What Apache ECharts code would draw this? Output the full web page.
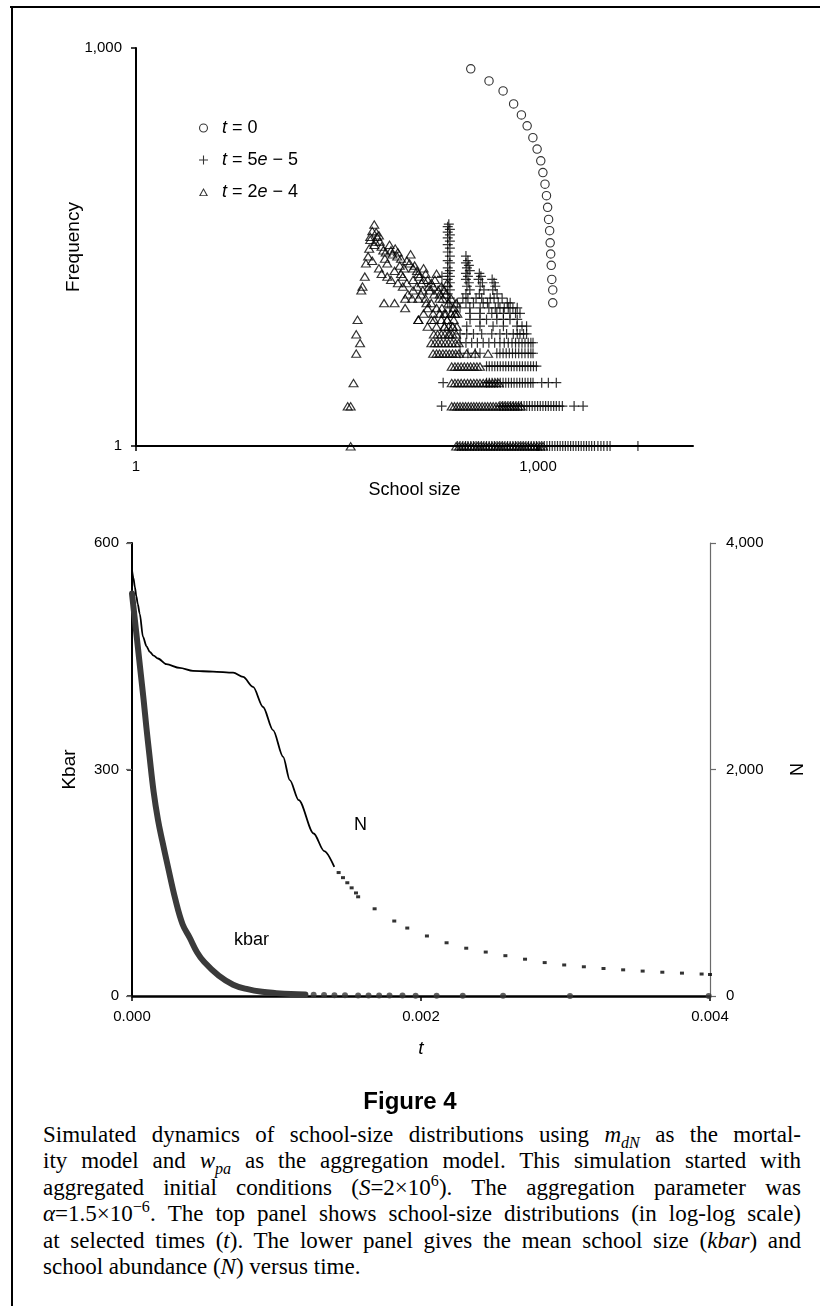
<!DOCTYPE html>
<html><head><meta charset="utf-8">
<script src="https://cdn.jsdelivr.net/npm/echarts@6/dist/echarts.min.js"></script>
<style>
html,body{margin:0;padding:0;background:#fff;}
#page{position:relative;width:820px;height:1306px;overflow:hidden;background:#fff;}
#frameTop{position:absolute;left:10px;top:5.5px;width:810px;height:2.5px;background:#000;}
#frameLeft{position:absolute;left:10.5px;top:5.5px;width:2.5px;height:1301px;background:#000;}
#chart{position:absolute;left:0;top:0;width:820px;height:1070px;}
#figTitle{position:absolute;left:0;width:820px;top:1087px;text-align:center;font:bold 24px 'Liberation Sans',Arial,sans-serif;line-height:28px;}
#caption{position:absolute;left:43px;top:1122px;width:758px;font-family:'Liberation Serif','Times New Roman',serif;font-size:23px;line-height:26.4px;color:#000;}
#caption div{height:26.4px;white-space:nowrap;}
#caption .j{text-align:justify;text-align-last:justify;}
#caption sub{font-size:0.7em;vertical-align:-0.4em;line-height:0;}
#caption sup{font-size:0.7em;vertical-align:0.55em;line-height:0;}
</style></head>
<body>
<div id="page">
<div id="chart"></div>
<div id="frameTop"></div>
<div id="frameLeft"></div>
<div id="figTitle">Figure 4</div>
<div id="caption">
<div class="j">Simulated dynamics of school-size distributions using <i>m</i><sub><i>dN</i></sub> as the mortal-</div>
<div class="j">ity model and <i>w</i><sub><i>pa</i></sub> as the aggregation model. This simulation started with</div>
<div class="j">aggregated initial conditions (<i>S</i>=2×10<sup>6</sup>). The aggregation parameter was</div>
<div class="j"><i>α</i>=1.5×10<sup>−6</sup>. The top panel shows school-size distributions (in log-log scale)</div>
<div class="j">at selected times (<i>t</i>). The lower panel gives the mean school size (<i>kbar</i>) and</div>
<div>school abundance (<i>N</i>) versus time.</div>
</div>
</div>
<script>
// ---------- Top panel: school-size distributions ----------
const xTicksTop = [1, 1000];
const yTicksTop = [1, 1000];

// t = 0 (circles)
const circleSize = [315, 431, 549, 658, 752, 830, 916, 985, 1049, 1088, 1128, 1157, 1180, 1200, 1222, 1233, 1244, 1256, 1268, 1289, 1289];
const circleFreq = [697, 565, 475, 379, 313, 259, 211, 173, 141, 115, 94, 77, 63, 51, 42, 34, 28, 23, 18, 15, 12];

// t = 5e-5 (plus signs): sizes at each low frequency row, plus upper points [size, freq]
const plusF1 = [250, 262, 275, 288, 300, 315, 330, 345, 360, 378, 395, 413, 432, 452, 473, 495, 518, 542, 567, 593, 620, 649, 679, 710, 743, 777, 813, 850, 890, 931, 974, 1019, 1066, 1115, 1167, 1221, 1277, 1336, 1398, 1463, 1530, 1601, 1675, 1752, 1833, 1918, 2007, 2100, 2197, 2299, 2405, 2516, 2640, 2800, 2950, 3100, 3280, 3450, 5570];
const plusF2 = [191, 520, 545, 570, 597, 625, 655, 686, 718, 752, 788, 825, 864, 905, 948, 993, 1040, 1089, 1140, 1194, 1250, 1309, 1370, 1440, 1520, 1860, 2170];
const plusF3 = [196, 413, 433, 454, 476, 499, 523, 549, 575, 603, 633, 663, 696, 730, 765, 802, 841, 882, 918, 1066, 1195, 1370];
const plusF4 = [413, 433, 454, 476, 499, 523, 549, 575, 603, 633, 663, 696, 730, 765, 802, 841, 882, 925, 973];
const plusF5 = [262, 300, 340, 369, 493, 520, 549, 579, 611, 645, 680, 718, 758, 800, 845, 885, 918];
const plusF6 = [262, 290, 320, 353, 390, 430, 475, 520, 560, 600, 640, 680, 720, 760, 800, 845, 885, 918];
const plusF7 = [262, 294, 330, 380, 452, 520, 583, 654, 700, 734, 780, 822];
const plusF8 = [294, 369, 462, 552, 697, 760, 822];
const plusF9 = [311, 369, 413, 493, 552, 618, 700];
const plusF10 = [311, 369, 452, 493, 552, 618, 680, 734];
const plusUpper = [[192,19],[192,16],
 [216,47],[212,45],[220,43],[212,41],[220,39],[212,37],[220,35],[212,33],[220,31],[212,29],[220,27],[212,25],[220,24],[212,22],[220,21],[212,20],[220,19],[212,18],[220,17],[212,16],[220,15],[212,14],[220,13],[212,12],[220,11],
 [290,27],[300,25],[290,24],[305,23],[295,22],[310,21],[290,20],[300,19],[290,18],[305,17],[295,16],[310,15],[290,14],[300,13],[290,12],[310,11],
 [365,20],[375,19],[360,18],[385,17],[370,16],[395,15],[365,14],[380,13],[390,12],[370,11],
 [455,18],[470,17],[480,16],[460,15],[495,14],[470,13],[505,12],[480,11],
 [540,13],[590,12],[560,11],[620,12],[650,11],
 [330,12],[345,13],[420,12],[440,13],[430,11],[520,11],[600,11],[700,11],[250,12],[262,11],[275,13]];

// t = 2e-4 (triangles)
const triF1 = [40, 245, 258, 272, 286, 301, 317, 334, 352, 370, 390, 410, 432, 455, 479, 504, 531, 559, 589, 620, 653, 687, 723, 761, 801, 843, 888, 935, 984, 1036, 1090];
const triF2 = [38, 40, 227, 238, 250, 262, 275, 288, 302, 317, 332, 348, 365, 383, 402, 421, 442, 463, 486, 510, 535, 560, 588, 616, 646, 678, 711, 745];
const triF3 = [42, 227, 240, 253, 267, 282, 298, 314, 332, 350, 369, 390, 411, 434, 458, 483, 510];
const triF4 = [227, 240, 253, 267, 282, 298, 314, 332, 350, 369];
const triF5 = [44, 165, 175, 184, 195, 206, 218, 230, 243, 257, 294, 339, 424];
const triF6 = [47, 160, 170, 180, 191, 203, 215, 228, 242, 256];
const triF7 = [44, 167, 178, 190, 202, 215, 230, 245];
const triF8 = [150, 175, 200, 215, 232, 248];
const triF9 = [45, 128, 160, 190, 210, 235];
const triF10 = [140, 165, 185, 205, 225, 240];
const triUpper = [[48,15],[49,16],[51,19],[52,24],[54,27],[55,31],[56,36],[56,38],[58,42],[60,47],[62,41],[63,38],[61,35],[60,33],
 [65,39],[68,32],[73,29],[82,28],[89,27],[58,25],[75,24],[93,23],[100,22],[85,21],[117,22],[128,20],[75,19],[98,19],[117,18],[140,18],[160,17],[98,16],[117,15],[134,14],[153,16],[168,14],[102,13],[128,13],[147,12],[184,13],[192,11],[210,9],[240,10],[230,8],[220,7],[201,8],[168,9],[140,22],[175,20],[210,17],[200,15],[71,12],[85,12],[102,11],[107,14],[128,9],
 [66,35],[70,30],[72,26],[78,33],[80,30],[86,31],[90,29],[95,26],[105,25],[110,24],[112,28],[120,23],[125,21],[130,19],[135,17],[145,20],[150,18],[155,15],[165,16],[170,18],[180,15],[185,14],[190,16],[195,13],[205,14],[215,12],[225,13],[235,11],[245,12],[250,10],[160,12],[150,11],[175,11],[200,10],[65,22],[68,20],[80,18],[90,17],[95,20],[105,17],[115,13],[125,16],[138,15],[145,13]];

// ---------- Bottom panel: kbar and N versus t ----------
const kbarT = [0, 0.00002, 0.00004, 0.00006, 0.00008, 0.0001, 0.00012, 0.00015, 0.00018, 0.00021, 0.00025, 0.0003, 0.00035, 0.0004, 0.00045, 0.0005, 0.0006, 0.0007, 0.0008, 0.0009, 0.001, 0.0011, 0.0012];
const kbarV = [533, 498, 463, 428, 393, 355, 320, 270, 233, 205, 170, 128, 95, 77, 58, 45, 27, 15, 9, 5.5, 3.8, 2.6, 2];
const kbarDotT = [0.001257, 0.001329, 0.001401, 0.001474, 0.001565, 0.001637, 0.00171, 0.001782, 0.001872, 0.001963, 0.002108, 0.002289, 0.002568, 0.003031, 0.003991];
const kbarDotV = [1.5, 1.2, 1, 0.9, 0.8, 0.7, 0.6, 0.5, 0.5, 0.4, 0.3, 0.3, 0.2, 0.1, 0.1];
const nT = [0, 0.00001, 0.00002, 0.00003, 0.00004, 0.0000533, 0.0000762, 0.0001, 0.000123, 0.00015, 0.00018, 0.000238, 0.00033, 0.000422, 0.00056, 0.0007, 0.000769, 0.000838, 0.000907, 0.000976, 0.001046, 0.001092, 0.001154, 0.001257, 0.00133, 0.0014];
const nV = [3760, 3690, 3610, 3530, 3460, 3377, 3171, 3090, 3038, 3005, 2980, 2930, 2897, 2870, 2865, 2856, 2817, 2729, 2552, 2347, 2111, 1906, 1729, 1435, 1280, 1140];
const nDotT = [0.00143, 0.00146, 0.00149, 0.00152, 0.00155, 0.001565, 0.001679, 0.001815, 0.001905, 0.002041, 0.002177, 0.002313, 0.002448, 0.002584, 0.00272, 0.002856, 0.002991, 0.003127, 0.003263, 0.003399, 0.003534, 0.00367, 0.003806, 0.003942, 0.004];
const nDotV = [1090, 1045, 1000, 955, 910, 876, 770, 662, 600, 530, 470, 422, 388, 356, 325, 295, 274, 258, 243, 231, 220, 210, 202, 194, 190];
const tTicks = [0, 0.002, 0.004];
const kbarTicks = [0, 300, 600];
const nTicks = [0, 2000, 4000];

// ---------- build ----------
const rowPts = (sizes, f) => sizes.map(s => [s, f]);
const plusData = [].concat(rowPts(plusF1,1), rowPts(plusF2,2), rowPts(plusF3,3), rowPts(plusF4,4), rowPts(plusF5,5),
  rowPts(plusF6,6), rowPts(plusF7,7), rowPts(plusF8,8), rowPts(plusF9,9), rowPts(plusF10,10), plusUpper);
const triData = [].concat(rowPts(triF1,1), rowPts(triF2,2), rowPts(triF3,3), rowPts(triF4,4), rowPts(triF5,5),
  rowPts(triF6,6), rowPts(triF7,7), rowPts(triF8,8), rowPts(triF9,9), rowPts(triF10,10), triUpper);
const circleData = circleSize.map((s, i) => [s, circleFreq[i]]);
const zip = (a, b) => a.map((v, i) => [v, b[i]]);

const SANS = "'Liberation Sans', Arial, sans-serif";
const TICKF = "'Liberation Sans Narrow', 'Liberation Sans', Arial, sans-serif";
const comma = v => Math.round(v).toLocaleString('en-US');

const RING = 'path://M0,5A5,5,0,1,0,10,5A5,5,0,1,0,0,5Z M1.2,5A3.8,3.8,0,1,1,8.8,5A3.8,3.8,0,1,1,1.2,5Z';
const PLUS = 'path://M4.4,0H5.6V10H4.4Z M0,4.4H10V5.6H0Z';
const TRI = 'path://M5,0L10,9L0,9Z M5,2.3L1.9,8L8.1,8Z';

const names = ['t = 0', 't = 5e \u2212 5', 't = 2e \u2212 4'];

const axisBlack = w => ({ show: true, onZero: false, lineStyle: { color: '#000', width: w } });
const tickBlack = { show: true, length: 5, lineStyle: { color: '#000', width: 1.5 } };

const chart = echarts.init(document.getElementById('chart'), null, { renderer: 'canvas' });
chart.setOption({
  animation: false,
  backgroundColor: 'transparent',
  textStyle: { fontFamily: SANS, color: '#000' },
  grid: [
    { left: 136, top: 48, width: 557, height: 398 },
    { left: 132, top: 543, width: 578, height: 453 }
  ],
  legend: {
    data: names,
    orient: 'vertical', left: 199, top: 118, padding: 0,
    itemWidth: 9, itemHeight: 9, itemGap: 12,
    formatter: n => '\u2002' + n.replace('t', '{i|t}').replace(/(\d)e/, '$1{i|e}'),
    textStyle: { fontSize: 18, fontFamily: SANS, color: '#000', lineHeight: 20,
      rich: { i: { fontStyle: 'italic', fontSize: 18, fontFamily: SANS, color: '#000', lineHeight: 20 } } }
  },
  xAxis: [
    { gridIndex: 0, type: 'log', logBase: 1000, min: 1, max: 14350,
      axisLine: axisBlack(2), axisTick: Object.assign({ customValues: xTicksTop }, tickBlack),
      axisLabel: { customValues: xTicksTop, formatter: comma, fontSize: 15, fontFamily: TICKF, color: '#000', margin: 13 },
      splitLine: { show: false },
      name: 'School size', nameLocation: 'middle', nameGap: 35, nameMoveOverlap: false,
      nameTextStyle: { fontSize: 18, fontFamily: SANS, color: '#000' } },
    { gridIndex: 1, type: 'value', min: 0, max: 0.004, interval: 0.002,
      axisLine: axisBlack(2.5), axisTick: Object.assign({ customValues: tTicks }, tickBlack),
      axisLabel: { customValues: tTicks, formatter: v => v.toFixed(3), fontSize: 15, fontFamily: TICKF, color: '#000', margin: 13 },
      splitLine: { show: false },
      name: 't', nameLocation: 'middle', nameGap: 43, nameMoveOverlap: false,
      nameTextStyle: { fontSize: 19, fontStyle: 'italic', fontFamily: SANS, color: '#000' } }
  ],
  yAxis: [
    { gridIndex: 0, type: 'log', logBase: 1000, min: 1, max: 1000,
      axisLine: axisBlack(2), axisTick: Object.assign({ customValues: yTicksTop }, tickBlack),
      axisLabel: { customValues: yTicksTop, formatter: comma, fontSize: 15, fontFamily: TICKF, color: '#000', margin: 14 },
      splitLine: { show: false },
      name: 'Frequency', nameLocation: 'middle', nameGap: 53, nameMoveOverlap: false,
      nameTextStyle: { fontSize: 19, fontFamily: SANS, color: '#000' } },
    { gridIndex: 1, type: 'value', min: 0, max: 600, interval: 300,
      axisLine: axisBlack(2), axisTick: Object.assign({ customValues: kbarTicks }, tickBlack),
      axisLabel: { customValues: kbarTicks, fontSize: 15, fontFamily: TICKF, color: '#000', margin: 13 },
      splitLine: { show: false },
      name: 'Kbar', nameLocation: 'middle', nameGap: 53, nameMoveOverlap: false,
      nameTextStyle: { fontSize: 19, fontFamily: SANS, color: '#000' } },
    { gridIndex: 1, type: 'value', position: 'right', min: 0, max: 4000, interval: 2000,
      axisLine: { show: true, onZero: false, lineStyle: { color: '#6a6a6a', width: 1.2 } },
      axisTick: { show: true, customValues: nTicks, length: 6, lineStyle: { color: '#6a6a6a', width: 1.2 } },
      axisLabel: { customValues: nTicks, formatter: comma, fontSize: 15, fontFamily: TICKF, color: '#000', margin: 16 },
      splitLine: { show: false },
      name: 'N', nameLocation: 'middle', nameGap: 76, nameRotate: -90, nameMoveOverlap: false,
      nameTextStyle: { fontSize: 18, fontFamily: SANS, color: '#000' } },
    { gridIndex: 1, type: 'value', position: 'right', min: 0, max: 4000, interval: 2000,
      axisLine: { show: false },
      axisTick: { show: true, inside: true, customValues: nTicks, length: 6, lineStyle: { color: '#6a6a6a', width: 1.2 } },
      axisLabel: { show: false }, splitLine: { show: false } }
  ],
  graphic: [
    { type: 'text', left: 354, top: 816, style: { text: 'N', fontSize: 18, fontFamily: SANS, fill: '#000' } },
    { type: 'text', left: 234, top: 931, style: { text: 'kbar', fontSize: 18, fontFamily: SANS, fill: '#000' } }
  ],
  series: [
    { name: names[0], type: 'scatter', xAxisIndex: 0, yAxisIndex: 0, symbol: RING, symbolSize: 9.5,
      itemStyle: { color: '#000' }, data: circleData, z: 3 },
    { name: names[1], type: 'scatter', xAxisIndex: 0, yAxisIndex: 0, symbol: PLUS, symbolSize: 10,
      itemStyle: { color: '#000' }, data: plusData, z: 3 },
    { name: names[2], type: 'scatter', xAxisIndex: 0, yAxisIndex: 0, symbol: TRI, symbolSize: [11, 9],
      itemStyle: { color: '#000' }, data: triData, z: 3 },
    { name: 'kbar', type: 'line', xAxisIndex: 1, yAxisIndex: 1, data: zip(kbarT, kbarV),
      smooth: 0.4, showSymbol: false,
      lineStyle: { color: '#3a3a3a', width: 6, cap: 'round', join: 'round' }, z: 3 },
    { name: 'kbar dots', type: 'scatter', xAxisIndex: 1, yAxisIndex: 1, data: zip(kbarDotT, kbarDotV),
      symbol: 'circle', symbolSize: 6, itemStyle: { color: '#3a3a3a' }, z: 3 },
    { name: 'N', type: 'line', xAxisIndex: 1, yAxisIndex: 2, data: zip(nT, nV),
      smooth: 0.3, smoothMonotone: 'x', showSymbol: false,
      lineStyle: { color: '#000', width: 1.8 }, z: 3 },
    { name: 'N dots', type: 'scatter', xAxisIndex: 1, yAxisIndex: 2, data: zip(nDotT, nDotV),
      symbol: 'rect', symbolSize: [4, 3], itemStyle: { color: '#000' }, z: 3 }
  ]
});
</script>
</body></html>
